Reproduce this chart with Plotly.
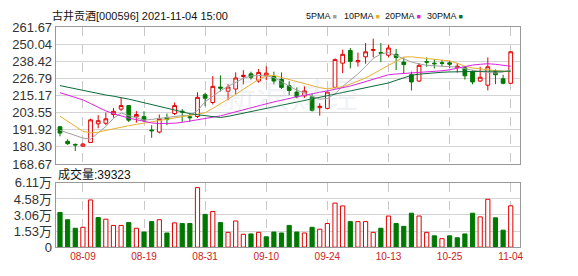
import plotly.graph_objects as go

W, H = 578, 276

dates = ["08-04","08-05","08-06","08-09","08-10","08-11","08-12","08-13","08-16","08-17",
         "08-18","08-19","08-20","08-23","08-24","08-25","08-26","08-27","08-30","08-31",
         "09-01","09-02","09-03","09-06","09-07","09-08","09-09","09-10","09-13","09-14",
         "09-15","09-16","09-17","09-22","09-23","09-24","09-27","09-28","09-29","09-30",
         "10-08","10-11","10-12","10-13","10-14","10-15","10-18","10-19","10-20","10-21",
         "10-22","10-25","10-26","10-27","10-28","10-29","11-01","11-02","11-03","11-04"]

open_ = [194.0,184.1,182.0,180.8,183.3,196.0,196.4,202.3,206.0,208.4,
         200.7,200.9,191.8,190.4,200.3,203.0,204.6,200.8,201.0,215.8,
         210.5,221.0,218.2,219.7,228.2,230.0,225.1,229.0,228.3,226.2,
         221.9,217.6,215.0,214.4,207.0,206.5,220.8,237.3,245.9,238.2,
         241.6,246.0,244.5,242.7,243.3,238.0,229.4,225.1,238.3,237.3,
         237.5,237.5,234.3,234.1,231.5,225.1,222.3,231.5,226.6,223.6]
high = [194.6,185.4,182.6,183.0,199.5,201.9,203.6,206.8,213.7,208.6,
        204.7,204.5,195.1,202.3,203.0,210.5,206.0,203.0,217.5,217.2,
        228.5,229.0,223.0,231.0,232.5,231.5,233.3,235.1,231.5,231.0,
        225.0,220.8,221.5,216.5,210.0,218.8,240.5,246.5,247.6,244.5,
        250.9,254.0,250.9,249.8,247.0,241.2,231.5,237.3,241.2,240.1,
        239.5,239.0,237.3,234.8,232.6,234.8,241.2,233.0,229.4,245.5]
low = [187.5,181.7,177.5,180.3,183.0,193.0,195.1,200.2,204.7,197.2,
       196.8,197.2,186.5,189.5,195.0,202.0,197.2,197.2,200.0,208.0,
       209.2,218.0,212.0,216.0,222.9,226.1,224.0,225.7,222.9,219.7,
       215.5,213.3,213.7,204.3,201.5,205.8,220.0,230.5,233.7,235.0,
       236.9,241.2,238.0,241.2,232.6,230.5,218.7,224.5,234.8,233.7,
       235.0,234.0,230.9,226.1,222.9,224.5,218.7,223.0,222.9,223.4]
close = [189.7,182.5,181.6,182.2,198.7,198.1,199.4,204.5,208.4,198.5,
         202.3,198.5,191.3,199.5,199.0,208.4,204.0,200.2,214.0,213.4,
         221.5,220.3,221.0,227.2,229.0,227.7,231.0,230.5,225.1,220.8,
         218.7,214.4,218.4,205.2,207.9,217.6,239.7,243.3,238.5,239.0,
         245.0,246.5,244.0,247.6,241.2,236.3,224.5,235.8,238.0,236.9,
         237.2,236.6,235.2,228.7,224.5,227.7,234.8,229.4,223.6,245.0]

ma5 = [191.6,189.8,188.0,186.3,185.6,190.0,194.2,199.7,203.4,201.6,
       199.9,198.5,199.0,199.7,200.3,201.0,201.6,201.6,205.0,211.0,
       215.0,218.5,221.5,224.5,227.0,228.6,228.9,228.6,227.5,224.8,
       221.6,219.0,216.8,214.8,212.8,213.2,216.5,221.5,225.5,230.0,
       235.0,240.5,243.5,244.6,242.5,240.5,238.0,236.8,235.8,235.5,
       235.2,235.0,234.6,233.5,232.3,231.6,231.0,230.5,231.2,232.6]
ma10 = [201.2,197.6,194.0,190.9,189.9,190.3,191.5,192.7,193.9,194.7,
        195.6,196.5,197.5,198.5,199.4,200.3,201.1,202.1,202.5,203.5,
        206.5,209.5,213.0,216.0,219.5,223.0,226.3,228.5,229.0,227.5,
        226.1,225.0,223.8,222.0,220.6,219.8,220.5,221.3,223.0,225.2,
        227.2,230.0,233.2,235.8,238.5,241.5,241.6,241.0,240.6,240.0,
        239.3,238.8,237.2,235.2,234.0,233.3,232.6,232.2,231.8,231.5]
ma20 = [217.2,215.6,213.9,212.3,209.8,207.3,204.8,202.9,201.2,199.9,
        198.8,197.7,196.6,196.2,196.2,196.4,197.0,197.9,198.6,199.5,
        200.5,201.4,202.8,204.2,205.8,207.3,208.4,209.6,210.9,212.2,
        213.3,214.4,215.4,216.6,217.5,218.4,219.4,220.4,221.7,223.2,
        224.8,226.6,228.1,229.4,229.9,230.2,230.5,230.9,231.3,231.8,
        232.1,232.8,234.0,235.2,236.0,236.5,236.9,236.5,235.8,235.2]
ma30 = [222.0,220.9,219.8,218.7,217.5,216.4,215.6,214.8,214.0,212.8,
        211.6,210.3,209.0,207.7,206.4,205.2,204.0,202.9,202.2,201.5,
        200.8,200.3,201.1,202.2,203.3,204.4,205.4,206.5,207.6,208.7,
        209.7,210.8,211.9,213.0,214.0,215.1,216.2,217.3,218.4,219.5,
        220.5,221.6,222.7,223.8,225.6,227.4,229.0,229.8,230.4,230.8,
        231.1,231.3,231.5,231.6,231.7,231.8,231.8,231.8,231.8,231.8]

volume = [33000,26100,18000,18900,44900,28100,26600,20700,20700,23400,
          18000,14400,24300,26100,13500,23100,22500,22500,56600,31200,
          33900,23400,14100,24900,12300,12600,14100,9900,14400,13500,
          20700,14400,13500,18900,17100,22500,41900,39200,24300,24300,
          24300,14100,18000,29600,22500,19800,32300,29600,14100,10800,
          8100,10800,9000,12600,32300,28800,45500,27900,16200,39323]

price_ticks = [168.67, 180.30, 191.92, 203.55, 215.17, 226.79, 238.42, 250.04, 261.67]
vol_ticks = [0, 1.53, 3.06, 4.58, 6.11]
vol_tick_text = ["0", "1.53万", "3.06万", "4.58万", "6.11万"]
x_ticks = ["08-09", "08-19", "08-31", "09-10", "09-24", "10-13", "10-25", "11-04"]

title_text = "古井贡酒[000596] 2021-11-04 15:00"
vol_title = "成交量:39323"
ma_names = ["5PMA", "10PMA", "20PMA", "30PMA"]

RED = "#e00000"
GREEN = "#007800"
MA_COLORS = ["#a0a0a0", "#e8b030", "#e020e0", "#0a6a3a"]

def pxx(x):
    return x / W

def pxy(y):
    return 1 - y / H

fig = go.Figure()

fig.add_trace(go.Candlestick(
    x=dates, open=open_, high=high, low=low, close=close,
    increasing=dict(line=dict(color=RED, width=1), fillcolor="white"),
    decreasing=dict(line=dict(color=GREEN, width=1), fillcolor=GREEN),
    whiskerwidth=0, xaxis="x", yaxis="y", hoverinfo="skip", showlegend=False,
))

for vals, col in zip([ma5, ma10, ma20, ma30], MA_COLORS):
    fig.add_trace(go.Scatter(x=dates, y=vals, mode="lines",
                             line=dict(color=col, width=1),
                             xaxis="x", yaxis="y", hoverinfo="skip", showlegend=False))

vol_w = [v / 10000 for v in volume]
up = []
for i in range(len(close)):
    if i == 0:
        up.append(close[0] >= open_[0])
    else:
        up.append(close[i] > close[i - 1])
fig.add_trace(go.Bar(
    x=dates, y=vol_w, width=0.55,
    marker=dict(color=["white" if u else GREEN for u in up],
                line=dict(color=[RED if u else GREEN for u in up], width=1)),
    xaxis="x2", yaxis="y2", hoverinfo="skip", showlegend=False,
))

x_dom = [pxx(56), pxx(523)]
x_rng = [-0.56, 60.25]
axis_common = dict(showline=True, mirror=True, linecolor="#999999", linewidth=1,
                   zeroline=False, fixedrange=True)

fig.update_layout(
    width=W, height=H,
    margin=dict(l=0, r=0, t=0, b=0),
    paper_bgcolor="white", plot_bgcolor="white",
    showlegend=False,
    bargap=0,
    xaxis=dict(domain=x_dom, type="category", range=x_rng, anchor="y",
               tickvals=x_ticks, showticklabels=False, ticks="",
               showgrid=True, gridcolor="#c8c8c8", griddash="dash", gridwidth=1,
               rangeslider=dict(visible=False), **axis_common),
    yaxis=dict(domain=[pxy(166), pxy(21.5)], range=[168.67, 261.67], anchor="x",
               tickvals=price_ticks, ticktext=["%.2f" % v for v in price_ticks],
               showgrid=True, gridcolor="#d4d4d4", ticks="",
               tickfont=dict(family="Liberation Sans, Arial", size=13, color="#333333"),
               **axis_common),
    xaxis2=dict(domain=x_dom, type="category", range=x_rng, anchor="y2",
                tickvals=x_ticks, ticktext=x_ticks, ticks="",
                showgrid=True, gridcolor="#c8c8c8", griddash="dash", gridwidth=1,
                tickfont=dict(family="Liberation Sans, Arial", size=10, color="#cc2222"),
                **axis_common),
    yaxis2=dict(domain=[pxy(254), pxy(186)], range=[0, 6.11], anchor="x2",
                tickvals=vol_ticks, ticktext=vol_tick_text, ticks="",
                showgrid=True, gridcolor="#d4d4d4",
                tickfont=dict(family="Liberation Sans, Noto Sans CJK SC", size=13, color="#333333"),
                **axis_common),
)

annotations = [
    dict(text=title_text, x=pxx(50), y=pxy(9), xref="paper", yref="paper",
         xanchor="left", yanchor="middle", showarrow=False,
         font=dict(family="Liberation Sans, Noto Sans CJK SC", size=11, color="#111111")),
    dict(text=vol_title, x=pxx(56), y=pxy(177), xref="paper", yref="paper",
         xanchor="left", yanchor="middle", showarrow=False,
         font=dict(family="Liberation Sans, Noto Sans CJK SC", size=12, color="#111111")),
    dict(text="新浪财经", x=pxx(292), y=pxy(92), xref="paper", yref="paper",
         xanchor="center", yanchor="middle", showarrow=False,
         font=dict(family="Noto Sans CJK SC", size=34, color="rgba(190,200,210,0.22)")),
]
leg_x = [306, 344, 385, 427]
for name, lx, col in zip(ma_names, leg_x, MA_COLORS):
    annotations.append(dict(
        text=name + " <span style='color:%s;font-size:7px'>■</span>" % col,
        x=pxx(lx), y=pxy(9), xref="paper", yref="paper",
        xanchor="left", yanchor="middle", showarrow=False,
        font=dict(family="Liberation Sans", size=9, color="#111111")))
fig.update_layout(annotations=annotations)

fig.write_html("out.html", config={"displayModeBar": False, "staticPlot": True})
